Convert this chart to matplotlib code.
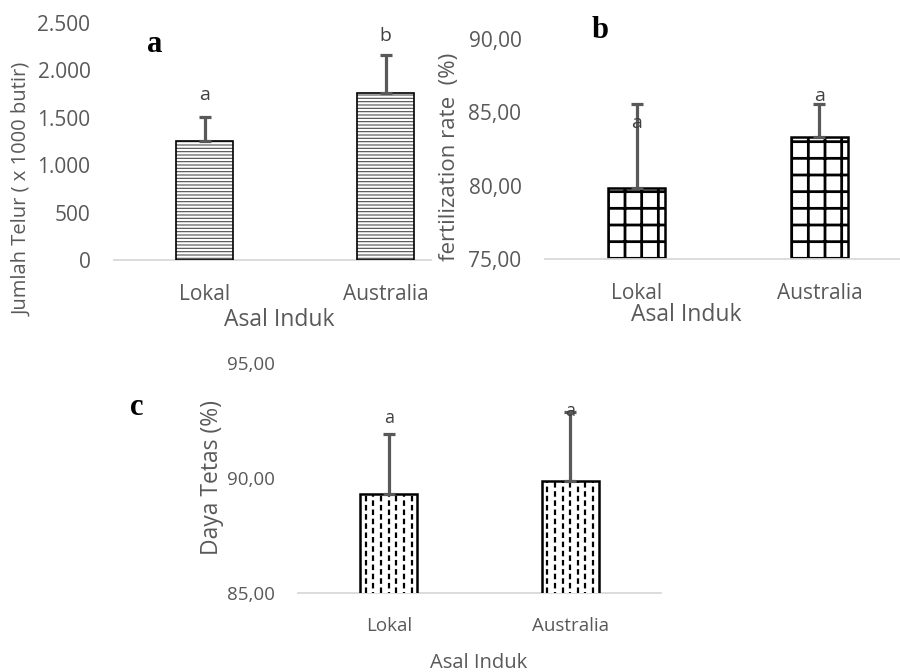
import matplotlib
matplotlib.use("Agg")
import matplotlib.pyplot as plt
import numpy as np

plt.rcParams["font.family"] = ["Open Sans", "DejaVu Sans"]
plt.rcParams["lines.scale_dashes"] = False

GREY = "#595959"
AXIS_GREY = "#d9d9d9"

categories = ["Lokal", "Australia"]

# panel a: jumlah telur (x 1000 butir)
telur_mean = [1250, 1760]
telur_err = [260, 405]
telur_letters = ["a", "b"]
telur_ticks = [0, 500, 1000, 1500, 2000, 2500]
telur_ticklabels = ["0", "500", "1.000", "1.500", "2.000", "2.500"]

# panel b: fertilization rate (%)
fert_mean = [79.85, 83.3]
fert_err = [5.75, 2.3]
fert_letters = ["a", "a"]
fert_ticks = [75, 80, 85, 90]
fert_ticklabels = ["75,00", "80,00", "85,00", "90,00"]

# panel c: daya tetas (%)
tetas_mean = [89.3, 89.85]
tetas_err = [2.6, 3.0]
tetas_letters = ["a", "a"]
tetas_ticks = [85, 90, 95]
tetas_ticklabels = ["85,00", "90,00", "95,00"]

fig = plt.figure(figsize=(9, 6.72), dpi=100)

ax_a = fig.add_axes([0.1267, 0.6131, 0.3522, 0.3527])
ax_b = fig.add_axes([0.6056, 0.6146, 0.3944, 0.3274])
ax_c = fig.add_axes([0.3311, 0.1176, 0.4033, 0.3423])

x = np.arange(len(categories))
bw = 0.315


def style_axis(ax, ticks, ticklabels, ylim, xlim, fs):
    ax.set_ylim(*ylim)
    ax.set_xlim(*xlim)
    ax.set_yticks(ticks)
    ax.set_yticklabels(ticklabels)
    ax.set_xticks(x)
    ax.set_xticklabels(categories)
    for s in ["top", "right", "left"]:
        ax.spines[s].set_visible(False)
    ax.spines["bottom"].set_color(AXIS_GREY)
    ax.spines["bottom"].set_linewidth(1.3)
    ax.tick_params(axis="both", length=0, colors=GREY, labelsize=fs)
    ax.tick_params(axis="y", pad=17)
    ax.tick_params(axis="x", pad=17)
    ax.patch.set_alpha(0)


def errbars(ax, means, errs, letters, offsets, fs):
    ax.errorbar(x, means, yerr=[np.zeros(len(errs)), errs], fmt="none",
                ecolor=GREY, elinewidth=2.3, capsize=4, capthick=2.3, zorder=4)
    for xi, m, e, lab, off in zip(x, means, errs, letters, offsets):
        ax.annotate(lab, (xi, m + e), xytext=(0, off), textcoords="offset pixels",
                    ha="center", va="center", color="#404040", fontsize=fs, zorder=5)


# panel a
plt.rcParams["hatch.linewidth"] = 0.8
ax_a.bar(x, telur_mean, width=bw, color="white", edgecolor="#4d4d4d",
         hatch="-----", linewidth=0, zorder=2)
ax_a.bar(x, telur_mean, width=bw, fill=False, edgecolor="black", linewidth=1.2, zorder=3)
style_axis(ax_a, telur_ticks, telur_ticklabels, (0, 2500), (-0.5, 1.25), 15)
errbars(ax_a, telur_mean, telur_err, telur_letters, [22, 19], 14)
ax_a.set_xlabel("Asal Induk", color=GREY, fontsize=16.5, va="center")
ax_a.xaxis.set_label_coords(0.52, -0.253)
ax_a.set_ylabel("Jumlah Telur ( x 1000 butir)", color=GREY, fontsize=14.5, va="center")
ax_a.yaxis.set_label_coords(-0.29, 0.3)

# panel b
plt.rcParams["hatch.linewidth"] = 2.0
ax_b.bar(x, fert_mean, width=bw, color="white", edgecolor="black",
         hatch="+", linewidth=1.8, zorder=2)
style_axis(ax_b, fert_ticks, fert_ticklabels, (75, 90), (-0.5, 1.44), 15)
errbars(ax_b, fert_mean, fert_err, fert_letters, [-19, 8], 14)
ax_b.set_xlabel("Asal Induk", color=GREY, fontsize=16.5, va="center")
ax_b.xaxis.set_label_coords(0.397, -0.255)
ax_b.set_ylabel("fertilization rate  (%)", color=GREY, fontsize=16, va="center")
ax_b.yaxis.set_label_coords(-0.27, 0.464)

# panel c: staggered dashed vertical fill
bars_c = ax_c.bar(x, tetas_mean, width=bw, color="white", edgecolor="black",
                  linewidth=1.8, zorder=3)
for bar in bars_c:
    bx = bar.get_x()
    cols = np.linspace(bx + bw * 0.1, bx + bw * 0.9, 7)
    for k, cx in enumerate(cols):
        phase = 3.3 if k % 2 else 0.0
        ln = ax_c.vlines(cx, 85, bar.get_height(), colors="black", linewidth=1.6,
                         linestyles=[(phase, (4.0, 2.6))], zorder=3.5)
        ln.set_clip_path(bar)
style_axis(ax_c, tetas_ticks, tetas_ticklabels, (85, 95), (-0.5, 1.5), 13.5)
errbars(ax_c, tetas_mean, tetas_err, tetas_letters, [16, 1], 13)
ax_c.set_xlabel("Asal Induk", color=GREY, fontsize=14.5, va="center")
ax_c.xaxis.set_label_coords(0.497, -0.304)
ax_c.set_ylabel("Daya Tetas (%)", color=GREY, fontsize=16.5, va="center")
ax_c.yaxis.set_label_coords(-0.238, 0.5)

# panel letters
serif = ["Liberation Serif", "DejaVu Serif"]
fig.text(155 / 900, 1 - 45 / 672, "a", family=serif, fontweight="bold", fontsize=22,
         ha="center", va="center")
fig.text(600 / 900, 1 - 30 / 672, "b", family=serif, fontweight="bold", fontsize=22,
         ha="center", va="center")
fig.text(137 / 900, 1 - 408 / 672, "c", family=serif, fontweight="bold", fontsize=22,
         ha="center", va="center")

fig.savefig("out.png", dpi=100)
plt.close(fig)
